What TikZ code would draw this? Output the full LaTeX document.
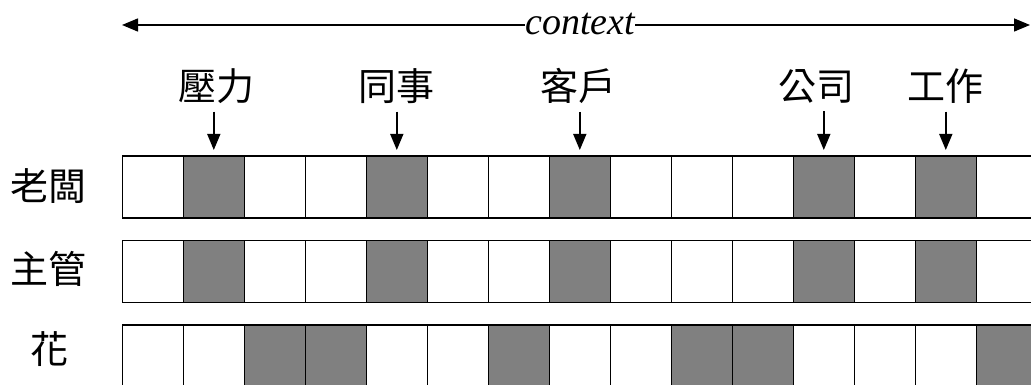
\documentclass[tikz,border=0pt]{standalone}
\usepackage{fontspec}
\setmainfont{Liberation Serif}
\newfontfamily\cjk{Noto Sans CJK TC}
\usetikzlibrary{arrows.meta,calc}
\tikzset{
  cell/.style={draw=black, line width=1.6pt, minimum width=61pt, minimum height=62pt, inner sep=0pt, anchor=north west, fill=white},
  dark/.style={fill=black!50},
  lab/.style={inner sep=0pt, font=\cjk\fontsize{38}{40}\selectfont},
  arr/.style={line width=1.5pt, -{Triangle[length=16pt,width=13pt]}},
}
\begin{document}
\begin{tikzpicture}[x=1pt,y=-1pt]
\useasboundingbox (0,0) rectangle (1031,385);
\clip (0,0) rectangle (1031,385);
% context arrow
\node[inner sep=0pt, anchor=base, font=\itshape\fontsize{38}{40}\selectfont] (ctx) at (580,35) {context};
\coordinate (cl) at (122,25);
\coordinate (cr) at (1030,25);
\draw[arr] (cl -| ctx.west) -- (cl);
\draw[arr] (cr -| ctx.east) -- (cr);
% rows
\foreach \r/\y/\pat in {1/155/{0,1,0,0,1,0,0,1,0,0,0,1,0,1,0}, 2/239.5/{0,1,0,0,1,0,0,1,0,0,0,1,0,1,0}, 3/324/{0,0,1,1,0,0,1,0,0,1,1,0,0,0,1}}{
  \foreach \v [count=\i from 0] in \pat {
    \ifnum\v=1
      \node[cell, dark] (r\r c\i) at ({121.5+61*\i},\y) {};
    \else
      \node[cell] (r\r c\i) at ({121.5+61*\i},\y) {};
    \fi
  }
}
% row labels
\node[lab] (l1) at (48,186) {老闆};
\node[lab] (l2) at (48,269) {主管};
\node[lab] (l3) at (49,349) {花};
% top labels
\node[lab] (t1) at (216,86) {壓力};
\node[lab] (t2) at (396,86) {同事};
\node[lab] (t3) at (578,86) {客戶};
\node[lab] (t4) at (816,86) {公司};
\node[lab] (t5) at (945,86) {工作};
\foreach \t/\c in {t1/r1c1, t2/r1c4, t3/r1c7, t4/r1c11, t5/r1c13}{
  \draw[arr, shorten <=8pt, shorten >=5pt] (\t.south -| \c.north) -- (\c.north);
}
\end{tikzpicture}
\end{document}
